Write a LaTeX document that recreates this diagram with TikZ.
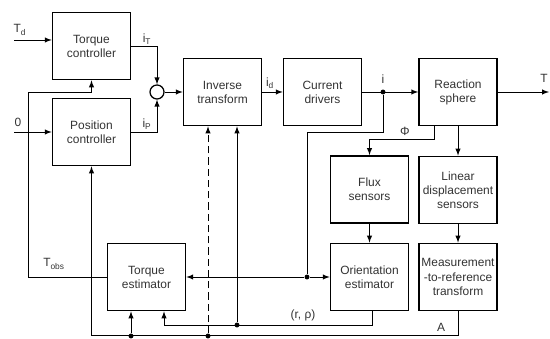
\documentclass[tikz,border=0pt]{standalone}
\usepackage{fontspec}
\setmainfont{Liberation Sans}

\begin{document}
\begin{tikzpicture}[
        x=0.025cm, y=-0.025cm,
        >=latex,
        font=\fontsize{8.5}{10}\selectfont,
        box/.style={
            draw, line width=1.1pt,
            minimum width=1.95cm, minimum height=1.68cm,
            align=center, inner sep=1pt, text=black!80
        },
        sig/.style={line width=0.7pt},
        sumj/.style={draw, circle, line width=0.9pt, minimum size=0.35cm, inner sep=0pt},
        dot/.style={circle, fill=black, inner sep=0pt, minimum size=3.5pt},
        lbl/.style={inner sep=1pt, text=black!80}% Etiquetas de señales
    ]
    \useasboundingbox (0,0) rectangle (550,339);

    % 1. Controladores y sumador
    \node[box] (tc) at (91.5,46) {Torque\\controller};
    \node[box] (pc) at (91.5,132) {Position\\controller};
    \node[sumj] (sum) at (157,92) {};

    % 2. Cadena directa
    \node[box] (inv) at (222.5,92) {Inverse\\transform};
    \node[box] (cd) at (322.5,92) {Current\\drivers};
    \node[box] (rs) at (458,92) {Reaction\\sphere};

    % 3. Sensores y estimadores
    \node[box] (flux) at (369.5,189.5) {Flux\\sensors};
    \node[box] (lds) at (458,190) {Linear\\displacement\\sensors};
    \node[box] (oe) at (369.5,277) {Orientation\\estimator};
    \node[box] (mrt) at (458,277) {Measurement\\-to-reference\\transform};
    \node[box] (te) at (146.5,277) {Torque\\estimator};

    % 4. Entradas
    \coordinate (td_in) at (14,40);
    \coordinate (zero_in) at (14,132);
    \draw[sig,->] (td_in) -- (td_in -| tc.west);
    \draw[sig,->] (zero_in) -- (pc.west);
    \node[lbl] at (20,30) {T\textsubscript{d}};
    \node[lbl] at (18,122) {0};

    % 5. Corrientes hacia el sumador
    \draw[sig,->] (tc.east) -| (sum.north);
    \draw[sig,->] (pc.east) -| (sum.south);
    \node[lbl] at (147,39) {i\textsubscript{T}};
    \node[lbl] at (147,124) {i\textsubscript{P}};

    % 6. Flechas de la cadena directa
    \draw[sig,->] (sum.east) -- (inv.west);
    \draw[sig,->] (inv.east) -- (cd.west);
    \draw[sig,->] (cd.east) -- (rs.west);
    \node[dot] (idot) at (383,92) {};
    \coordinate (t_out) at (549,92);
    \draw[sig,->] (rs.east) -- (t_out);
    \node[lbl] at (270,83) {i\textsubscript{d}};
    \node[lbl] at (383,79) {i};
    \node[lbl] at (544,78) {T};

    % 7. Salidas de la esfera
    \coordinate (phi_bend) at (434,139);
    \draw[sig,->] (phi_bend |- rs.south) -- (phi_bend) -| (flux.north);
    \node[lbl] at (405,131) {Φ};
    \draw[sig,->] (rs.south) -- (lds.north);
    \draw[sig,->] (flux.south) -- (oe.north);
    \draw[sig,->] (lds.south) -- (mrt.north);

    % 8. Corriente i hacia los estimadores
    \coordinate (i_turn) at (307,132);
    \node[dot] (est_dot) at (307,277) {};
    \draw[sig] (idot) |- (i_turn) -- (est_dot);
    \draw[sig,->] (est_dot) -- (te.east);
    \draw[sig,->] (est_dot) -- (oe.west);

    % 9. Par observado
    \coordinate (tobs_bend) at (28,92);
    \draw[sig,->] (te.west) -| (tobs_bend) -| (tc.south);
    \node[lbl] at (54,264) {T\textsubscript{obs}};

    % 10. Orientacion (r, rho)
    \coordinate (rho_te) at (164,325);
    \node[dot] (rho_dot) at (237,325) {};
    \draw[sig,->] ([xshift=0.08cm]oe.south) |- (rho_te) -- (rho_te |- te.south);
    \draw[sig,->] (rho_dot) -- (rho_dot |- inv.south);
    \node[lbl] at (303,315) {(r, ρ)};

    % 11. Matriz A
    \draw[sig,->] (mrt.south) -- ++(0,24) -| (pc.south);
    \node[dot] (a_te) at (131,336) {};
    \node[dot] (a_inv) at (208,336) {};
    \draw[sig,->] (a_te) -- (a_te |- te.south);
    \draw[sig,->,dash pattern=on 5pt off 3pt] (a_inv) -- (a_inv |- inv.south);
    \node[lbl] at (441,327) {A};

\end{tikzpicture}
\end{document}
